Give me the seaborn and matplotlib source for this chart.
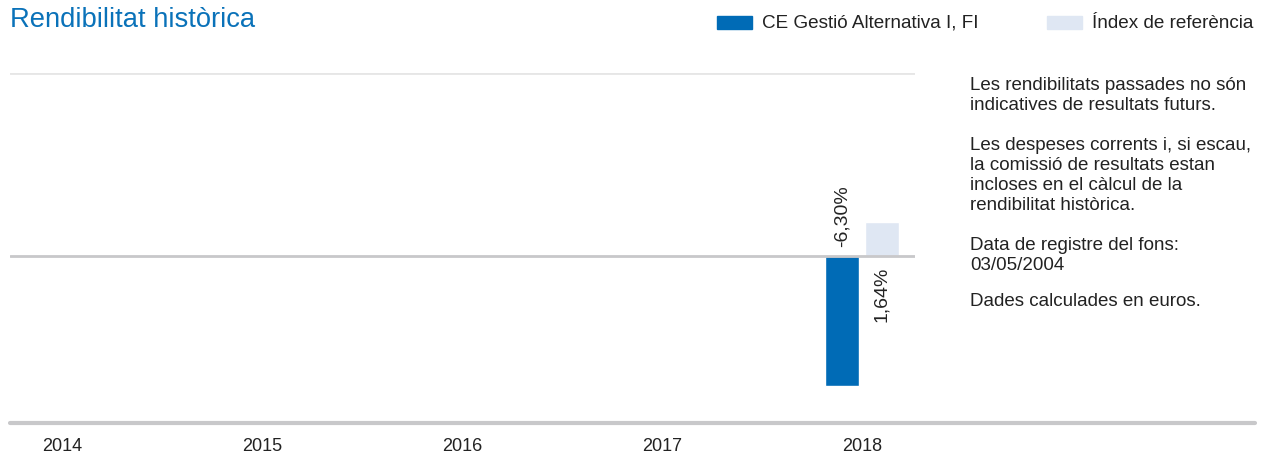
import numpy as np
import pandas as pd
import matplotlib
matplotlib.use('Agg')
import matplotlib.pyplot as plt
from matplotlib.patches import Rectangle
import seaborn as sns

# dades
anys = ['2014', '2015', '2016', '2017', '2018']
fons = [np.nan, np.nan, np.nan, np.nan, -6.30]
index_ref = [np.nan, np.nan, np.nan, np.nan, 1.64]
serie_fons = 'CE Gestió Alternativa I, FI'
serie_index = 'Índex de referència'
notes = ['Les rendibilitats passades no són\nindicatives de resultats futurs.',
         'Les despeses corrents i, si escau,\nla comissió de resultats estan\nincloses en el càlcul de la\nrendibilitat històrica.',
         'Data de registre del fons:\n03/05/2004',
         'Dades calculades en euros.']

blau = '#006bb6'
blau_clar = '#dfe7f3'
gris = '#c8c8ca'
negre = '#222222'

sns.set_style('white')
plt.rcParams['font.family'] = ['Liberation Sans', 'DejaVu Sans']

df = pd.DataFrame({
    'any': anys * 2,
    'valor': fons + index_ref,
    'serie': [serie_fons] * len(anys) + [serie_index] * len(anys),
})

fig = plt.figure(figsize=(12.68, 4.55), dpi=100)
ax = fig.add_axes([10 / 1268, 1 - 423 / 455, 905 / 1268, 350 / 455])

sns.barplot(data=df, x='any', y='valor', hue='serie', order=anys,
            hue_order=[serie_fons, serie_index], palette=[blau, blau_clar],
            saturation=1, width=0.4, gap=0.16, legend=False, ax=ax)

ax.set_xlim(-0.26, 4.265)
ax.set_ylim(-8.1, 8.87)
ax.set_xlabel('')
ax.set_ylabel('')
ax.set_yticks([])
ax.tick_params(axis='x', length=0, pad=11, labelsize=13, colors=negre)
for s in ax.spines.values():
    s.set_visible(False)

# línies
ax.axhline(8.87, color='#e6e6e6', lw=2, zorder=0)
ax.axhline(0, color=gris, lw=2, zorder=1)
ax.plot([0, (1255 - 10) / 905], [0, 0], transform=ax.transAxes,
        color=gris, lw=3, clip_on=False)

# etiquetes de les barres (a l'altre costat del zero)
for cont in ax.containers:
    for barra in cont:
        h = barra.get_height()
        if np.isnan(h):
            continue
        xc = barra.get_x() + barra.get_width() / 2
        txt = f'{h:.2f}%'.replace('.', ',')
        if h < 0:
            ax.text(xc, 0.45, txt, rotation=90, ha='center', va='bottom',
                    fontsize=14, color=negre)
        else:
            ax.text(xc, -0.5, txt, rotation=90, ha='center', va='top',
                    fontsize=14, color=negre)

# títol
fig.text(10 / 1268, 1 - 20 / 455, 'Rendibilitat històrica', fontsize=19.7,
         color='#0a72b9', va='center', ha='left')

# llegenda
for x0, col, nom in [(717, blau, serie_fons), (1047, blau_clar, serie_index)]:
    fig.patches.append(Rectangle((x0 / 1268, 1 - 29 / 455), 35 / 1268, 13 / 455,
                                 transform=fig.transFigure, color=col))
    fig.text((x0 + 45) / 1268, 1 - 23 / 455, nom, fontsize=13.6,
             color=negre, va='center', ha='left')

# notes laterals
ys = [77, 137, 237, 293]
for y, n in zip(ys, notes):
    fig.text(970 / 1268, 1 - y / 455, n, fontsize=13.5, color=negre,
             va='top', ha='left', linespacing=1.22)

fig.savefig('out.png', dpi=100)
